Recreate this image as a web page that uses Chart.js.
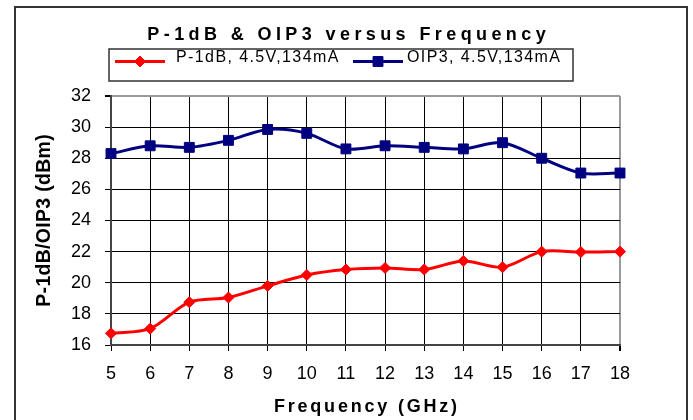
<!DOCTYPE html>
<html>
<head>
<meta charset="utf-8">
<script src="https://cdn.jsdelivr.net/npm/chart.js@4.4.0/dist/chart.umd.min.js"></script>
<style>
html, body { margin: 0; padding: 0; background: #fff; }
canvas { display: block; }
</style>
</head>
<body>
<canvas id="chart" width="693" height="420"></canvas>
<script>
const frequencies = ['5', '6', '7', '8', '9', '10', '11', '12', '13', '14', '15', '16', '17', '18'];
const p1dbValues = [16.75, 17.05, 18.75, 19.05, 19.8, 20.5, 20.85, 20.95, 20.85, 21.4, 21.0, 22.0, 21.97, 22.0];
const oip3Values = [28.3, 28.8, 28.7, 29.15, 29.85, 29.6, 28.6, 28.8, 28.7, 28.6, 29.0, 28.0, 27.05, 27.05];
const yTicks = [16, 18, 20, 22, 24, 26, 28, 30, 32];

const seriesNames = ['P-1dB, 4.5V,134mA', 'OIP3, 4.5V,134mA'];
const chartTitle = 'P-1dB & OIP3 versus Frequency';
const xTitle = 'Frequency (GHz)';
const yTitle = 'P-1dB/OIP3 (dBm)';

const FONT = '"Liberation Sans", Arial, sans-serif';

// draw text with letter spacing (falls back to char by char)
function spacedText(ctx, text, x, y, spacing, align) {
    if ('letterSpacing' in ctx) ctx.letterSpacing = '0px';
    const w = ctx.measureText(text).width + spacing * (text.length - 1);
    const left = align === 'center' ? x - w / 2 : x;
    ctx.textAlign = 'left';
    if ('letterSpacing' in ctx) {
        ctx.letterSpacing = spacing + 'px';
        ctx.fillText(text, left, y);
        ctx.letterSpacing = '0px';
    } else {
        let cx = left;
        for (const ch of text) {
            ctx.fillText(ch, cx, y);
            cx += ctx.measureText(ch).width + spacing;
        }
    }
}

function marker(ctx, style, radius, x, y) {
    ctx.beginPath();
    if (style === 'rectRot') {
        ctx.moveTo(x, y - radius);
        ctx.lineTo(x + radius, y);
        ctx.lineTo(x, y + radius);
        ctx.lineTo(x - radius, y);
    } else {
        const s = radius * Math.SQRT1_2;
        ctx.rect(x - s, y - s, 2 * s, 2 * s);
    }
    ctx.closePath();
    ctx.fill();
    ctx.stroke();
}

const decorations = {
    id: 'decorations',
    beforeDraw(chart) {
        const ctx = chart.ctx;
        ctx.save();
        ctx.fillStyle = '#fff';
        ctx.fillRect(0, 0, chart.width, chart.height);
        ctx.restore();
    },
    afterDraw(chart) {
        const ctx = chart.ctx;
        const area = chart.chartArea;
        ctx.save();

        // outer frame
        ctx.strokeStyle = '#333';
        ctx.lineWidth = 2;
        ctx.beginPath();
        ctx.moveTo(15, chart.height);
        ctx.lineTo(15, 7);
        ctx.lineTo(687, 7);
        ctx.lineTo(687, chart.height);
        ctx.stroke();

        ctx.fillStyle = '#000';
        ctx.textBaseline = 'alphabetic';

        // title
        ctx.font = 'bold 18px ' + FONT;
        spacedText(ctx, chartTitle, chart.width / 2, 40, 4.4, 'center');

        // x title
        spacedText(ctx, xTitle, (area.left + area.right) / 2, 412, 2.8, 'center');

        // y title
        ctx.save();
        ctx.font = 'bold 19.5px ' + FONT;
        ctx.translate(49.5, (area.top + area.bottom) / 2);
        ctx.rotate(-Math.PI / 2);
        spacedText(ctx, yTitle, 0, 0, 0.3, 'center');
        ctx.restore();

        // legend
        ctx.strokeStyle = '#333';
        ctx.lineWidth = 1.5;
        ctx.strokeRect(109, 49, 464, 32);
        const items = [{ lineX: 115, textX: 176 }, { lineX: 353, textX: 407 }];
        chart.data.datasets.forEach((ds, i) => {
            const it = items[i];
            const ly = 61.5;
            ctx.strokeStyle = ds.borderColor;
            ctx.lineWidth = 3;
            ctx.beginPath();
            ctx.moveTo(it.lineX, ly);
            ctx.lineTo(it.lineX + 50, ly);
            ctx.stroke();
            ctx.fillStyle = ds.pointBackgroundColor;
            ctx.lineWidth = 1;
            marker(ctx, ds.pointStyle, ds.pointRadius, it.lineX + 25, ly);
            ctx.fillStyle = '#000';
            ctx.font = '16px ' + FONT;
            spacedText(ctx, ds.label, it.textX, 62, 1.4, 'left');
        });

        ctx.restore();
    }
};

new Chart(document.getElementById('chart'), {
    type: 'line',
    data: {
        labels: frequencies,
        datasets: [
            {
                label: seriesNames[0],
                data: p1dbValues,
                borderColor: '#ff0000',
                backgroundColor: '#ff0000',
                pointBackgroundColor: '#ff0000',
                pointBorderColor: '#ff0000',
                borderWidth: 3,
                pointStyle: 'rectRot',
                pointRadius: 5.5,
                pointBorderWidth: 1,
                tension: 0.3,
                clip: false
            },
            {
                label: seriesNames[1],
                data: oip3Values,
                borderColor: '#000080',
                backgroundColor: '#000080',
                pointBackgroundColor: '#000080',
                pointBorderColor: '#000080',
                borderWidth: 3,
                pointStyle: 'rect',
                pointRadius: 7,
                pointBorderWidth: 1,
                tension: 0.3,
                clip: false
            }
        ]
    },
    options: {
        responsive: false,
        devicePixelRatio: 1,
        animation: false,
        layout: { padding: { left: 0, top: 96, right: 73, bottom: 0 } },
        plugins: {
            legend: { display: false },
            title: { display: false },
            tooltip: { enabled: false }
        },
        scales: {
            x: {
                type: 'category',
                offset: false,
                grid: {
                    color: c => c.index === frequencies.length - 1 ? '#9a9a9a' : '#000',
                    lineWidth: c => c.index === frequencies.length - 1 ? 2 : 1,
                    tickColor: '#000',
                    tickLength: 6
                },
                border: { color: '#444', width: 2 },
                ticks: {
                    color: '#000',
                    font: { family: FONT, size: 18 },
                    padding: 12,
                    maxRotation: 0,
                    autoSkip: false
                },
                afterFit: s => { s.height = 75; }
            },
            y: {
                min: yTicks[0],
                max: yTicks[yTicks.length - 1],
                ticks: {
                    stepSize: yTicks[1] - yTicks[0],
                    color: '#000',
                    font: { family: FONT, size: 18 },
                    padding: 14
                },
                grid: {
                    color: c => c.tick && c.tick.value === yTicks[yTicks.length - 1] ? '#9a9a9a' : '#000',
                    lineWidth: c => c.tick && c.tick.value === yTicks[yTicks.length - 1] ? 2 : 1,
                    tickColor: '#000',
                    tickLength: 6
                },
                border: { color: '#444', width: 2 },
                afterFit: s => { s.width = 111; }
            }
        }
    },
    plugins: [decorations]
});
</script>
</body>
</html>
